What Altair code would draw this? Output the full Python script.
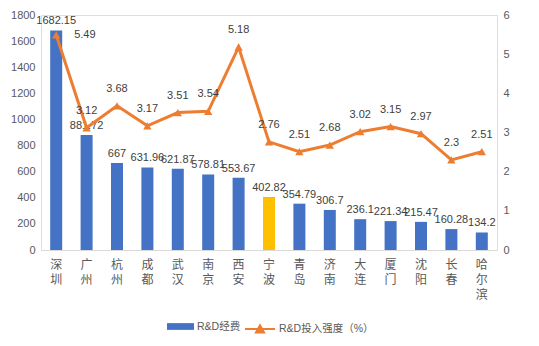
import altair as alt
import pandas as pd

cities = ["深圳", "广州", "杭州", "成都", "武汉", "南京", "西安", "宁波", "青岛", "济南", "大连", "厦门", "沈阳", "长春", "哈尔滨"]
rd_spend = [1682.15, 881.72, 667, 631.96, 621.87, 578.81, 553.67, 402.82, 354.79, 306.7, 236.1, 221.34, 215.47, 160.28, 134.2]
rd_intensity = [5.49, 3.12, 3.68, 3.17, 3.51, 3.54, 5.18, 2.76, 2.51, 2.68, 3.02, 3.15, 2.97, 2.3, 2.51]

bar_name = "R&D经费"
line_name = "R&D投入强度（%）"

df = pd.DataFrame({
    "city": cities,
    "spend": rd_spend,
    "intensity": rd_intensity,
    "s1": [bar_name] * len(cities),
    "s2": [line_name] * len(cities),
})

FONT = "Liberation Sans, 'Noto Sans CJK SC', sans-serif"
BLUE = "#4472C4"
ORANGE = "#ED7D31"
YELLOW = "#FFC000"
TXT = "#404040"

x = alt.X("city:N", sort=cities, title=None,
          scale=alt.Scale(paddingInner=0, paddingOuter=0),
          axis=alt.Axis(labelAngle=0, labelExpr="split(datum.label, '')",
                        labelLineHeight=15, labelFontSize=12, labelColor="#595959",
                        labelPadding=9, labelBaseline="top", ticks=False,
                        domainColor="#D9D9D9", domainWidth=1, grid=False))

base = alt.Chart(df)

y1 = alt.Y("spend:Q", title=None,
           scale=alt.Scale(domain=[0, 1800]),
           axis=alt.Axis(orient="left", values=list(range(0, 1801, 200)), ticks=False,
                         domain=False, grid=False, labelFontSize=11, format="d",
                         labelColor="#595959", labelPadding=6))

bars = base.mark_bar(size=12).encode(
    x=x, y=y1,
    fill=alt.Fill("s1:N", scale=alt.Scale(domain=[bar_name], range=[BLUE]),
                  legend=alt.Legend(title=None, orient="none", legendX=126, legendY=298,
                                    symbolType="M-1,-0.25H1V0.25H-1Z", symbolSize=729,
                                    symbolStrokeWidth=0, labelFontSize=10.5, labelColor="#595959",
                                    labelOffset=3, padding=0)),
)
ningbo = base.mark_bar(size=12, color=YELLOW).encode(x=x, y=y1).transform_filter(
    alt.datum.city == "宁波")
bar_text = base.mark_text(baseline="bottom", dy=-4, fontSize=11, color=TXT).encode(
    x=x, y=y1, text=alt.Text("spend:Q"))

left = alt.layer(bars, ningbo, bar_text)

y2 = alt.Y("intensity:Q", title=None,
           scale=alt.Scale(domain=[0, 6]),
           axis=alt.Axis(orient="right", values=list(range(0, 7)), ticks=False,
                         domain=False, grid=False, labelFontSize=11,
                         labelColor="#595959", labelPadding=6))

line = base.mark_line(strokeWidth=3).encode(
    x=x, y=y2,
    stroke=alt.Stroke("s2:N", scale=alt.Scale(domain=[line_name], range=[ORANGE]),
                      legend=alt.Legend(title=None, orient="none", legendX=203, legendY=298,
                                        symbolType="M-1,0H1M-0.27,0.24L0,-0.24L0.27,0.24Z",
                                        symbolSize=900, symbolStrokeWidth=2,
                                        symbolFillColor=ORANGE, labelFontSize=10.5,
                                        labelColor="#595959", labelOffset=3, padding=0)),
)
points = base.mark_point(shape="triangle-up", filled=True, size=70, color=ORANGE, opacity=1).encode(
    x=x, y=y2)
line_text = base.mark_text(baseline="bottom", dy=-12, fontSize=11, color=TXT).encode(
    x=x, y=y2, text=alt.Text("intensity:Q")).transform_filter(alt.datum.city != "深圳")
sz_text = base.mark_text(baseline="middle", align="left", dx=18, fontSize=11, color=TXT).encode(
    x=x, y=y2, text=alt.Text("intensity:Q")).transform_filter(alt.datum.city == "深圳")

right = alt.layer(line, points, line_text, sz_text)

chart = alt.layer(left, right).resolve_scale(y="independent", fill="independent", stroke="independent").properties(
    width=456, height=235,
    autosize=alt.AutoSizeParams(type="none"),
    padding={"left": 41, "top": 15, "right": 42, "bottom": 96},
    background="white",
).configure_view(stroke=None).configure(font=FONT)

chart.save("out.html", embed_options={"renderer": "svg", "actions": False})
